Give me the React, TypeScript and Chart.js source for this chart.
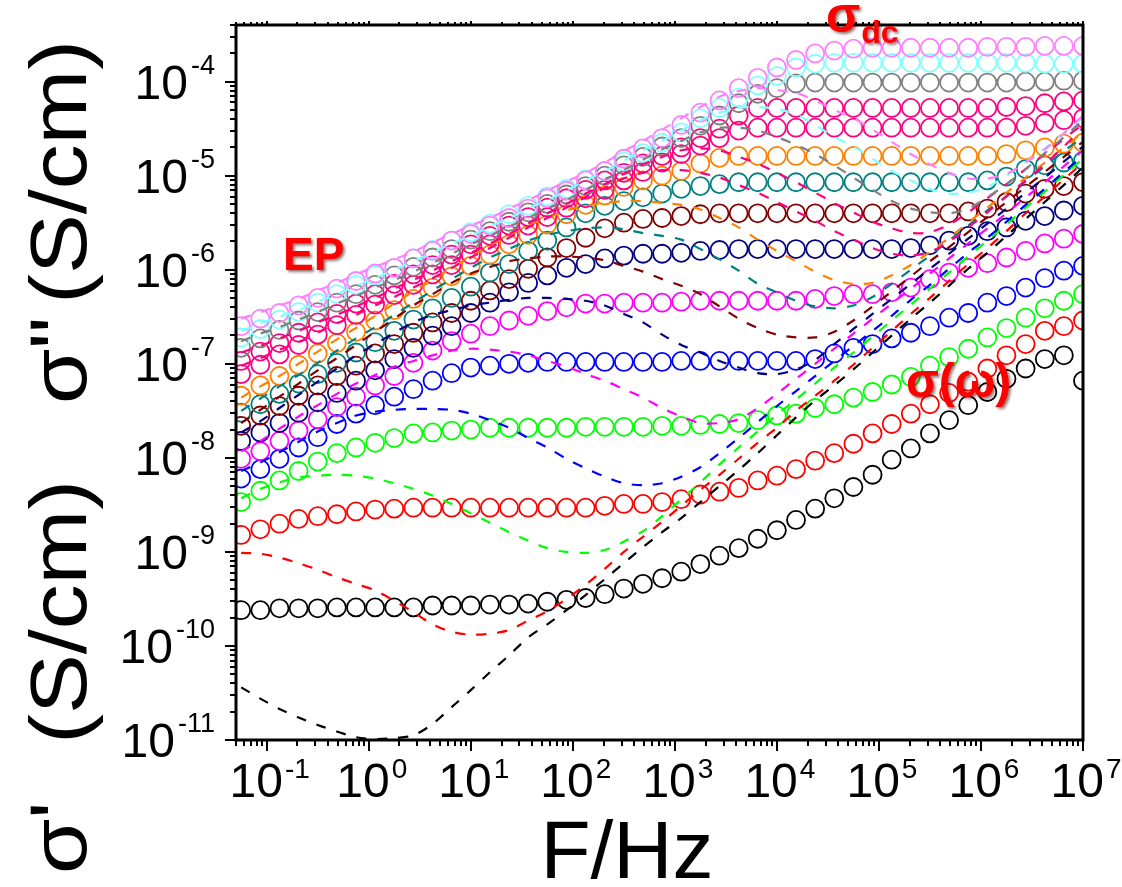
import React, { useEffect, useRef } from "react";
import { Chart, registerables } from "chart.js";

Chart.register(...registerables);

// Measurement frequencies (Hz)
const freqHz = [
  0.0562, 0.0866, 0.1334, 0.2054, 0.3162, 0.487, 0.75, 1.155, 1.778, 2.74,
  4.22, 6.49, 10, 15.4, 23.71, 36.5, 56.2, 86.6, 133.4, 205.4,
  316.2, 487, 750, 1155, 1778, 2740, 4220, 6490, 10000, 15400,
  23710, 36500, 56200, 86600, 133400, 205400, 316200, 487000, 750000, 1155000,
  1778000, 2740000, 4220000, 6490000, 10000000,
];

// log10 of sigma' (S/cm), circles
const re1Black = [-9.62,-9.62,-9.60,-9.60,-9.60,-9.59,-9.59,-9.59,-9.59,-9.59,-9.57,-9.57,-9.57,-9.56,-9.56,-9.55,-9.53,-9.51,-9.49,-9.45,-9.39,-9.34,-9.28,-9.21,-9.13,-9.04,-8.96,-8.86,-8.77,-8.66,-8.54,-8.43,-8.31,-8.18,-8.02,-7.90,-7.74,-7.60,-7.44,-7.30,-7.16,-7.05,-6.95,-6.91,-7.18];
const re2Red = [-8.82,-8.76,-8.70,-8.65,-8.62,-8.60,-8.57,-8.55,-8.54,-8.53,-8.53,-8.53,-8.53,-8.53,-8.53,-8.53,-8.53,-8.53,-8.53,-8.51,-8.49,-8.49,-8.47,-8.44,-8.39,-8.36,-8.32,-8.24,-8.19,-8.12,-8.03,-7.95,-7.85,-7.74,-7.64,-7.53,-7.43,-7.31,-7.19,-7.05,-6.91,-6.79,-6.65,-6.60,-6.54];
const re3Green = [-8.47,-8.35,-8.24,-8.14,-8.04,-7.95,-7.89,-7.84,-7.79,-7.74,-7.73,-7.71,-7.70,-7.68,-7.68,-7.68,-7.68,-7.68,-7.67,-7.67,-7.67,-7.67,-7.66,-7.66,-7.65,-7.64,-7.63,-7.60,-7.55,-7.53,-7.47,-7.43,-7.36,-7.30,-7.22,-7.14,-7.02,-6.93,-6.84,-6.72,-6.62,-6.51,-6.41,-6.33,-6.26];
const re4Blue = [-8.22,-8.12,-8.01,-7.89,-7.78,-7.64,-7.53,-7.44,-7.35,-7.27,-7.18,-7.10,-7.04,-7.02,-7.00,-6.99,-6.98,-6.98,-6.98,-6.98,-6.98,-6.98,-6.98,-6.97,-6.97,-6.97,-6.97,-6.97,-6.97,-6.97,-6.95,-6.89,-6.83,-6.79,-6.73,-6.67,-6.60,-6.51,-6.46,-6.35,-6.28,-6.19,-6.09,-6.01,-5.96];
const re5Magenta = [-8.01,-7.93,-7.82,-7.71,-7.59,-7.46,-7.35,-7.23,-7.13,-6.99,-6.86,-6.76,-6.68,-6.60,-6.54,-6.49,-6.44,-6.40,-6.36,-6.36,-6.35,-6.35,-6.35,-6.34,-6.33,-6.33,-6.33,-6.33,-6.33,-6.33,-6.31,-6.28,-6.26,-6.26,-6.24,-6.19,-6.10,-6.03,-5.98,-5.93,-5.87,-5.80,-5.72,-5.67,-5.62];
const re6Navy = [-7.82,-7.73,-7.63,-7.52,-7.41,-7.31,-7.18,-7.07,-6.95,-6.83,-6.70,-6.60,-6.46,-6.35,-6.24,-6.14,-6.06,-5.98,-5.94,-5.88,-5.85,-5.83,-5.83,-5.82,-5.80,-5.79,-5.78,-5.78,-5.78,-5.78,-5.78,-5.78,-5.78,-5.78,-5.78,-5.77,-5.74,-5.69,-5.64,-5.59,-5.55,-5.48,-5.43,-5.37,-5.32];
const re7Maroon = [-7.66,-7.55,-7.45,-7.34,-7.23,-7.13,-7.02,-6.89,-6.79,-6.67,-6.56,-6.46,-6.33,-6.22,-6.10,-5.99,-5.87,-5.77,-5.66,-5.56,-5.50,-5.46,-5.45,-5.43,-5.41,-5.40,-5.40,-5.40,-5.40,-5.40,-5.40,-5.40,-5.40,-5.40,-5.40,-5.40,-5.40,-5.40,-5.38,-5.35,-5.28,-5.19,-5.14,-5.11,-5.07];
const re8Teal = [-7.52,-7.43,-7.32,-7.21,-7.11,-6.99,-6.88,-6.77,-6.65,-6.53,-6.41,-6.30,-6.18,-6.03,-5.94,-5.80,-5.69,-5.55,-5.40,-5.32,-5.27,-5.23,-5.19,-5.14,-5.11,-5.09,-5.07,-5.07,-5.07,-5.07,-5.07,-5.07,-5.07,-5.07,-5.07,-5.07,-5.07,-5.07,-5.07,-5.05,-5.01,-4.93,-4.89,-4.86,-4.84];
const re9Orange = [-7.34,-7.23,-7.13,-7.01,-6.89,-6.78,-6.66,-6.54,-6.43,-6.31,-6.19,-6.07,-5.96,-5.84,-5.73,-5.63,-5.52,-5.41,-5.31,-5.21,-5.12,-5.05,-5.00,-4.95,-4.87,-4.81,-4.79,-4.79,-4.79,-4.79,-4.79,-4.79,-4.79,-4.79,-4.79,-4.79,-4.79,-4.79,-4.79,-4.79,-4.77,-4.73,-4.70,-4.66,-4.65];
const re10Pink = [-7.11,-7.01,-6.90,-6.80,-6.69,-6.59,-6.48,-6.37,-6.27,-6.16,-6.05,-5.95,-5.84,-5.73,-5.63,-5.53,-5.44,-5.34,-5.24,-5.15,-5.05,-4.96,-4.86,-4.77,-4.68,-4.60,-4.52,-4.49,-4.49,-4.49,-4.49,-4.49,-4.49,-4.49,-4.49,-4.49,-4.49,-4.49,-4.49,-4.49,-4.49,-4.47,-4.44,-4.41,-4.39];
const re11Pink = [-6.97,-6.87,-6.78,-6.67,-6.56,-6.47,-6.36,-6.26,-6.15,-6.05,-5.95,-5.84,-5.73,-5.64,-5.53,-5.44,-5.34,-5.24,-5.15,-5.05,-4.97,-4.87,-4.79,-4.70,-4.60,-4.50,-4.36,-4.28,-4.28,-4.28,-4.28,-4.28,-4.28,-4.28,-4.28,-4.28,-4.28,-4.28,-4.28,-4.28,-4.27,-4.26,-4.23,-4.21,-4.20];
const re12Gray = [-6.83,-6.73,-6.64,-6.54,-6.45,-6.35,-6.26,-6.16,-6.06,-5.97,-5.87,-5.78,-5.68,-5.59,-5.49,-5.39,-5.30,-5.20,-5.11,-5.00,-4.89,-4.80,-4.69,-4.60,-4.47,-4.36,-4.23,-4.13,-4.07,-4.02,-4.01,-4.01,-4.01,-4.01,-4.01,-4.01,-4.01,-4.01,-4.01,-4.01,-4.01,-4.00,-4.00,-3.99,-3.99];
const re13Cyan = [-6.72,-6.63,-6.53,-6.45,-6.35,-6.26,-6.16,-6.06,-5.98,-5.88,-5.79,-5.69,-5.60,-5.51,-5.41,-5.32,-5.22,-5.14,-5.04,-4.95,-4.85,-4.76,-4.65,-4.54,-4.39,-4.28,-4.17,-4.04,-3.94,-3.85,-3.81,-3.80,-3.80,-3.80,-3.80,-3.80,-3.80,-3.80,-3.80,-3.80,-3.80,-3.80,-3.81,-3.81,-3.81];
const re14Violet = [-6.60,-6.52,-6.46,-6.38,-6.30,-6.20,-6.12,-6.04,-5.98,-5.88,-5.80,-5.69,-5.62,-5.53,-5.45,-5.35,-5.24,-5.16,-5.05,-4.95,-4.82,-4.71,-4.60,-4.46,-4.33,-4.20,-4.07,-3.96,-3.85,-3.77,-3.70,-3.67,-3.65,-3.64,-3.64,-3.64,-3.64,-3.64,-3.64,-3.63,-3.63,-3.63,-3.62,-3.62,-3.62];

// log10 of sigma'' (S/cm), dashed lines
const im1Black = [-10.44,-10.56,-10.67,-10.76,-10.84,-10.91,-10.97,-10.99,-10.98,-10.95,-10.83,-10.65,-10.47,-10.28,-10.10,-9.91,-9.77,-9.62,-9.46,-9.29,-9.12,-8.95,-8.79,-8.64,-8.47,-8.30,-8.13,-7.95,-7.76,-7.57,-7.39,-7.23,-7.06,-6.88,-6.70,-6.52,-6.35,-6.17,-5.99,-5.82,-5.64,-5.46,-5.28,-5.10,-4.91];
const im2Red = [-9.01,-9.02,-9.06,-9.12,-9.19,-9.27,-9.34,-9.41,-9.52,-9.64,-9.77,-9.85,-9.88,-9.87,-9.83,-9.73,-9.63,-9.50,-9.35,-9.18,-9.00,-8.84,-8.68,-8.51,-8.34,-8.18,-8.01,-7.84,-7.68,-7.50,-7.34,-7.18,-7.01,-6.83,-6.65,-6.47,-6.30,-6.12,-5.94,-5.77,-5.59,-5.40,-5.22,-5.04,-4.86];
const im3Green = [-8.43,-8.33,-8.26,-8.21,-8.19,-8.18,-8.19,-8.22,-8.27,-8.33,-8.40,-8.49,-8.59,-8.69,-8.79,-8.88,-8.96,-9.00,-9.01,-8.98,-8.89,-8.78,-8.62,-8.44,-8.26,-8.07,-7.89,-7.72,-7.54,-7.38,-7.21,-7.04,-6.88,-6.71,-6.54,-6.37,-6.20,-6.03,-5.86,-5.69,-5.52,-5.34,-5.17,-4.99,-4.82];
const im4Blue = [-8.14,-8.05,-7.94,-7.83,-7.72,-7.63,-7.55,-7.51,-7.49,-7.48,-7.48,-7.49,-7.53,-7.60,-7.68,-7.79,-7.89,-8.01,-8.11,-8.20,-8.27,-8.29,-8.27,-8.20,-8.10,-7.95,-7.79,-7.62,-7.45,-7.29,-7.13,-6.97,-6.81,-6.65,-6.49,-6.32,-6.16,-5.99,-5.82,-5.66,-5.49,-5.31,-5.14,-4.96,-4.79];
const im5Magenta = [-7.93,-7.82,-7.69,-7.56,-7.44,-7.32,-7.21,-7.12,-7.03,-6.97,-6.91,-6.86,-6.84,-6.85,-6.87,-6.91,-6.97,-7.03,-7.11,-7.18,-7.27,-7.36,-7.47,-7.56,-7.63,-7.63,-7.59,-7.47,-7.32,-7.16,-7.00,-6.84,-6.68,-6.52,-6.36,-6.20,-6.04,-5.88,-5.72,-5.56,-5.40,-5.23,-5.07,-4.90,-4.73];
const im6Navy = [-7.73,-7.61,-7.47,-7.33,-7.19,-7.05,-6.91,-6.79,-6.67,-6.56,-6.48,-6.43,-6.38,-6.35,-6.32,-6.30,-6.30,-6.31,-6.33,-6.38,-6.47,-6.56,-6.69,-6.80,-6.88,-6.97,-7.04,-7.10,-7.11,-7.06,-6.96,-6.79,-6.63,-6.47,-6.31,-6.15,-5.99,-5.83,-5.67,-5.51,-5.35,-5.18,-5.02,-4.85,-4.69];
const im7Maroon = [-7.63,-7.49,-7.35,-7.21,-7.07,-6.94,-6.80,-6.66,-6.52,-6.38,-6.26,-6.14,-6.04,-5.97,-5.91,-5.88,-5.86,-5.86,-5.87,-5.90,-5.96,-6.02,-6.10,-6.17,-6.26,-6.39,-6.52,-6.62,-6.69,-6.72,-6.72,-6.66,-6.54,-6.39,-6.23,-6.07,-5.91,-5.76,-5.60,-5.44,-5.28,-5.12,-4.96,-4.80,-4.64];
const im8Teal = [-7.50,-7.37,-7.24,-7.12,-6.99,-6.86,-6.73,-6.61,-6.48,-6.35,-6.22,-6.10,-5.98,-5.87,-5.78,-5.69,-5.63,-5.59,-5.56,-5.55,-5.57,-5.61,-5.64,-5.68,-5.78,-5.89,-6.01,-6.15,-6.24,-6.33,-6.39,-6.41,-6.38,-6.29,-6.15,-6.00,-5.85,-5.69,-5.53,-5.37,-5.22,-5.06,-4.90,-4.74,-4.59];
const im9Orange = [-7.36,-7.24,-7.13,-7.00,-6.87,-6.74,-6.62,-6.49,-6.36,-6.23,-6.11,-5.98,-5.86,-5.74,-5.64,-5.53,-5.45,-5.37,-5.32,-5.29,-5.27,-5.27,-5.29,-5.31,-5.36,-5.45,-5.55,-5.68,-5.80,-5.91,-6.02,-6.11,-6.15,-6.14,-6.06,-5.95,-5.81,-5.66,-5.50,-5.34,-5.18,-5.02,-4.86,-4.70,-4.54];
const im10Pink = [-7.02,-6.94,-6.85,-6.77,-6.67,-6.57,-6.48,-6.38,-6.29,-6.19,-6.09,-5.98,-5.87,-5.77,-5.66,-5.55,-5.45,-5.34,-5.23,-5.13,-5.03,-4.97,-4.94,-4.94,-4.97,-5.02,-5.10,-5.18,-5.28,-5.38,-5.48,-5.59,-5.68,-5.77,-5.83,-5.85,-5.81,-5.70,-5.55,-5.39,-5.22,-5.05,-4.88,-4.69,-4.49];
const im11Pink = [-6.88,-6.81,-6.73,-6.65,-6.56,-6.48,-6.39,-6.30,-6.20,-6.11,-6.01,-5.91,-5.82,-5.72,-5.62,-5.51,-5.40,-5.30,-5.19,-5.09,-4.98,-4.88,-4.80,-4.73,-4.71,-4.73,-4.80,-4.87,-4.97,-5.07,-5.18,-5.29,-5.39,-5.49,-5.56,-5.61,-5.60,-5.52,-5.39,-5.24,-5.09,-4.93,-4.77,-4.61,-4.45];
const im12Gray = [-6.76,-6.68,-6.61,-6.53,-6.45,-6.36,-6.28,-6.19,-6.11,-6.02,-5.93,-5.83,-5.73,-5.64,-5.54,-5.45,-5.35,-5.26,-5.15,-5.04,-4.94,-4.83,-4.72,-4.63,-4.54,-4.49,-4.49,-4.52,-4.59,-4.67,-4.77,-4.89,-5.02,-5.15,-5.27,-5.35,-5.39,-5.40,-5.35,-5.23,-5.09,-4.93,-4.76,-4.59,-4.41];
const im13Cyan = [-6.65,-6.57,-6.50,-6.43,-6.34,-6.26,-6.17,-6.09,-6.00,-5.91,-5.82,-5.72,-5.64,-5.54,-5.45,-5.35,-5.26,-5.16,-5.05,-4.95,-4.84,-4.73,-4.63,-4.52,-4.41,-4.33,-4.28,-4.27,-4.29,-4.35,-4.46,-4.59,-4.69,-4.82,-4.95,-5.05,-5.14,-5.19,-5.18,-5.12,-5.00,-4.86,-4.71,-4.55,-4.38];
const im14Violet = [-6.52,-6.45,-6.38,-6.31,-6.22,-6.14,-6.05,-5.97,-5.89,-5.81,-5.71,-5.62,-5.53,-5.45,-5.35,-5.26,-5.16,-5.06,-4.97,-4.86,-4.74,-4.63,-4.51,-4.39,-4.27,-4.16,-4.10,-4.07,-4.09,-4.12,-4.20,-4.30,-4.39,-4.51,-4.64,-4.77,-4.88,-4.97,-5.03,-5.03,-4.98,-4.86,-4.72,-4.55,-4.36];

const seriesColors = [
  "#000000", "#ff0000", "#00ff00", "#0000ff", "#ff00ff", "#000080", "#800000",
  "#008080", "#ff8000", "#ff0080", "#ff0080", "#808080", "#80ffff", "#ff80ff",
];
const realParts = [re1Black, re2Red, re3Green, re4Blue, re5Magenta, re6Navy, re7Maroon, re8Teal, re9Orange, re10Pink, re11Pink, re12Gray, re13Cyan, re14Violet];
const imagParts = [im1Black, im2Red, im3Green, im4Blue, im5Magenta, im6Navy, im7Maroon, im8Teal, im9Orange, im10Pink, im11Pink, im12Gray, im13Cyan, im14Violet];

const xDecades = [-1, 0, 1, 2, 3, 4, 5, 6, 7];
const yDecades = [-11, -10, -9, -8, -7, -6, -5, -4];
const xTitle = "F/Hz";
const yTitleLowerSym = "σ'";
const yTitleUpperSym = 'σ"';
const yTitleUnit = "(S/cm)";

const FONT = '"Liberation Sans", Arial, Helvetica, sans-serif';

const decorPlugin = {
  id: "decor",
  afterDatasetsDraw(chart: any) {
    const { ctx, chartArea: a, scales } = chart;
    const xs = scales.x;
    const ys = scales.y;
    ctx.save();
    ctx.fillStyle = "#000";
    ctx.strokeStyle = "#000";
    const seg = (x1: number, y1: number, x2: number, y2: number) => {
      ctx.beginPath();
      ctx.moveTo(x1, y1);
      ctx.lineTo(x2, y2);
      ctx.stroke();
    };
    // ticks
    ctx.lineWidth = 2;
    for (let e = -2; e <= 7; e++) {
      for (let m = 1; m <= 9; m++) {
        const v = m * Math.pow(10, e);
        if (v < xs.min * 0.999 || v > xs.max * 1.001) continue;
        const px = Math.round(xs.getPixelForValue(v));
        seg(px, a.bottom, px, a.bottom + (m === 1 ? 11 : 6));
        seg(px, a.top, px, a.top - (m === 1 ? 4 : 3));
      }
    }
    for (let e = -11; e <= -4; e++) {
      for (let m = 1; m <= 9; m++) {
        const v = m * Math.pow(10, e);
        if (v < ys.min * 0.999 || v > ys.max * 1.001) continue;
        const py = Math.round(ys.getPixelForValue(v));
        seg(a.left, py, a.left - (m === 1 ? 11 : 6), py);
      }
    }
    // frame
    ctx.lineWidth = 3;
    ctx.strokeRect(a.left, a.top, a.right - a.left, a.bottom - a.top);

    // y tick labels
    ctx.textBaseline = "alphabetic";
    for (const e of yDecades) {
      const py = ys.getPixelForValue(Math.pow(10, e));
      const sup = String(e);
      ctx.font = `27px ${FONT}`;
      ctx.textAlign = "right";
      ctx.fillText(sup, 215, py - 8);
      const sw = ctx.measureText(sup).width;
      ctx.font = `48px ${FONT}`;
      ctx.fillText("10", 215 - sw - 3, py + 17);
    }
    // x tick labels
    for (const e of xDecades) {
      const px = xs.getPixelForValue(Math.pow(10, e));
      const sup = String(e);
      ctx.font = `48px ${FONT}`;
      const mw = ctx.measureText("10").width;
      ctx.font = `28px ${FONT}`;
      const sw = ctx.measureText(sup).width;
      const total = mw + 2 + sw;
      const left = px + 3 - total / 2;
      ctx.textAlign = "left";
      ctx.font = `48px ${FONT}`;
      ctx.fillText("10", left, 797);
      ctx.font = `28px ${FONT}`;
      ctx.fillText(sup, left + mw + 2, 778);
    }
    // axis titles
    ctx.font = `82px ${FONT}`;
    ctx.textAlign = "center";
    ctx.fillText(xTitle, 627, 878);

    ctx.font = `80px ${FONT}`;
    const rotText = (txt: string, y: number, align: string) => {
      ctx.save();
      ctx.translate(86, y);
      ctx.rotate(-Math.PI / 2);
      ctx.scale(1.12, 1);
      ctx.textAlign = align;
      ctx.fillText(txt, 0, 0);
      ctx.restore();
    };
    rotText(yTitleLowerSym, 874, "left");
    rotText(yTitleUnit, 480, "right");
    rotText(yTitleUpperSym, 404, "left");
    rotText(yTitleUnit, 40, "right");

    // annotations
    ctx.fillStyle = "#ff0000";
    ctx.shadowColor = "rgba(60,0,0,0.55)";
    ctx.shadowBlur = 3;
    ctx.shadowOffsetX = 2;
    ctx.shadowOffsetY = 2;
    ctx.textAlign = "left";
    ctx.font = `bold 46px ${FONT}`;
    ctx.fillText("EP", 283, 270);
    ctx.font = `bold 50px ${FONT}`;
    ctx.fillText("σ", 826, 32);
    const sigW = ctx.measureText("σ").width;
    ctx.font = `bold 32px ${FONT}`;
    ctx.fillText("dc", 826 + sigW + 1, 43);
    ctx.font = `bold 48px ${FONT}`;
    ctx.fillText("σ(ω)", 906, 397);
    ctx.restore();
  },
};

export default function App() {
  const canvasRef = useRef<HTMLCanvasElement | null>(null);

  useEffect(() => {
    const canvas = canvasRef.current;
    if (!canvas) return;
    const toPoints = (logs: number[]) =>
      freqHz.map((f, i) => ({ x: f, y: Math.pow(10, logs[i]) }));

    const datasets: any[] = [];
    // dashed sigma'' curves (drawn on top), top series first
    for (let k = imagParts.length - 1; k >= 0; k--) {
      datasets.push({
        label: `σ'' ${k + 1}`,
        data: toPoints(imagParts[k]),
        borderColor: seriesColors[k],
        borderWidth: 2.2,
        borderDash: [10, 11],
        pointRadius: 0,
        tension: 0.3,
        fill: false,
        order: 1,
        clip: 0,
      });
    }
    // circles sigma'
    for (let k = realParts.length - 1; k >= 0; k--) {
      datasets.push({
        label: `σ' ${k + 1}`,
        data: toPoints(realParts[k]),
        showLine: false,
        pointStyle: "circle",
        pointRadius: 9,
        pointHoverRadius: 9,
        pointBorderWidth: 1.8,
        pointBorderColor: seriesColors[k],
        pointBackgroundColor: "rgba(0,0,0,0)",
        borderColor: seriesColors[k],
        order: 2,
        clip: 0,
      });
    }

    const chart = new Chart(canvas, {
      type: "line",
      data: { datasets },
      options: {
        responsive: false,
        maintainAspectRatio: false,
        animation: false,
        devicePixelRatio: 1,
        events: [],
        layout: { padding: { left: 0, top: 25, right: 39, bottom: 0 } },
        plugins: {
          legend: { display: false },
          tooltip: { enabled: false },
          title: { display: false },
        },
        scales: {
          x: {
            type: "logarithmic",
            min: 0.05,
            max: 1e7,
            grid: { display: false },
            border: { display: false },
            ticks: { display: false },
            afterFit: (s: any) => {
              s.height = 147;
            },
          },
          y: {
            type: "logarithmic",
            min: 1e-11,
            max: 4e-4,
            grid: { display: false },
            border: { display: false },
            ticks: { display: false },
            afterFit: (s: any) => {
              s.width = 236;
            },
          },
        },
      } as any,
      plugins: [decorPlugin],
    });
    return () => chart.destroy();
  }, []);

  return (
    <div style={{ position: "absolute", left: 0, top: 0, width: 1122, height: 887, background: "#fff" }}>
      <canvas ref={canvasRef} width={1122} height={887} style={{ display: "block" }} />
    </div>
  );
}
